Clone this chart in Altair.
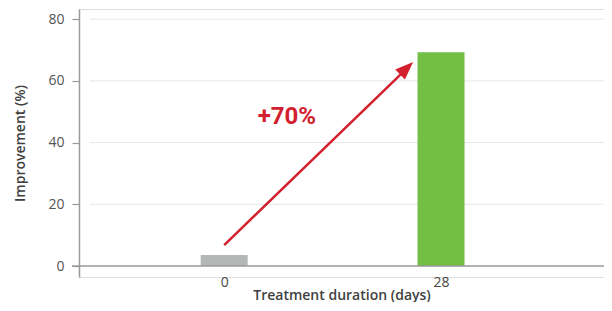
import altair as alt
import pandas as pd

days = [0, 28]
improvement = [3.6, 69.3]
bar_colors = ["#b3b8b6", "#72bf44"]
y_ticks = [0, 20, 40, 60, 80]
grid_values = [20, 40, 60, 80]

arrow_start = (0.0, 6.8)
arrow_tip = (24.4, 66.1)
arrow_line_end = (23.7, 64.3)
label_pos = (8.1, 48.3)
label_text = "+70%"

W, H = 525, 268
xs = alt.Scale(domain=[-18.1, 48.4], nice=False, zero=False)
ys = alt.Scale(domain=[-3.56, 83.3], nice=False, zero=False)

bars_df = pd.DataFrame({"days": days, "imp": improvement, "c": [str(d) for d in days]})
grid_df = pd.DataFrame({"v": grid_values})

font = "Open Sans"

base_axes = alt.Chart(bars_df).mark_bar(size=47).encode(
    x=alt.X("days:Q", scale=xs,
            axis=alt.Axis(values=days, title="Treatment duration (days)", grid=False, domain=False,
                          ticks=False, labelPadding=-2, labelFontSize=14, labelColor="#444",
                          titleFontSize=14, titleColor="#3f3f3f", titleFontWeight=600, titlePadding=-1,
                          labelFont=font, titleFont=font)),
    y=alt.Y("imp:Q", scale=ys,
            axis=alt.Axis(values=y_ticks, title="Improvement (%)", grid=False, domainColor="#9a9a9a",
                          domainWidth=1.5, tickColor="#9a9a9a", tickSize=7, tickWidth=1.2,
                          labelPadding=8, labelFontSize=14, labelColor="#555", titleFontSize=14,
                          titleColor="#3f3f3f", titleFontWeight=600, titlePadding=20,
                          labelFont=font, titleFont=font)),
    y2=alt.datum(0),
    color=alt.Color("c:N", scale=alt.Scale(domain=[str(d) for d in days], range=bar_colors), legend=None),
)

grid = alt.Chart(grid_df).mark_rule(color="#e6e6e6", strokeWidth=1).encode(
    y=alt.Y("v:Q", scale=ys),
    x=alt.value(11), x2=alt.value(W),
)

baseline = alt.Chart(pd.DataFrame({"v": [0]})).mark_rule(color="#9a9a9a", strokeWidth=1.5).encode(
    y=alt.Y("v:Q", scale=ys),
    x=alt.value(-7), x2=alt.value(W),
)

arrow_df = pd.DataFrame({"x": [arrow_start[0], arrow_line_end[0]], "y": [arrow_start[1], arrow_line_end[1]]})
arrow_line = alt.Chart(arrow_df).mark_line(color="#d3202e", strokeWidth=2.5).encode(
    x=alt.X("x:Q", scale=xs), y=alt.Y("y:Q", scale=ys)
)

head_df = pd.DataFrame({"x": [arrow_tip[0]], "y": [arrow_tip[1]]})
arrow_head = alt.Chart(head_df).mark_point(
    shape="M0,0L0.7,1.8L-0.7,1.8Z", size=400, angle=46.5, filled=True, opacity=1,
    color="#d3202e", strokeWidth=0
).encode(x=alt.X("x:Q", scale=xs), y=alt.Y("y:Q", scale=ys))

label_df = pd.DataFrame({"x": [label_pos[0]], "y": [label_pos[1]], "t": [label_text]})
label = alt.Chart(label_df).mark_text(
    font="Roboto", fontSize=24, fontWeight="bold", color="#d3202e", align="center", baseline="middle"
).encode(x=alt.X("x:Q", scale=xs), y=alt.Y("y:Q", scale=ys), text="t:N")

chart = alt.layer(grid, base_axes, baseline, arrow_line, arrow_head, label).properties(
    width=W, height=H,
    autosize=alt.AutoSizeParams(type="none"),
    padding={"left": 71, "top": 1, "right": 0, "bottom": 25},
).configure_view(stroke=None).configure(background="white")

chart.save("out.html", embed_options={"renderer": "svg", "actions": False})
